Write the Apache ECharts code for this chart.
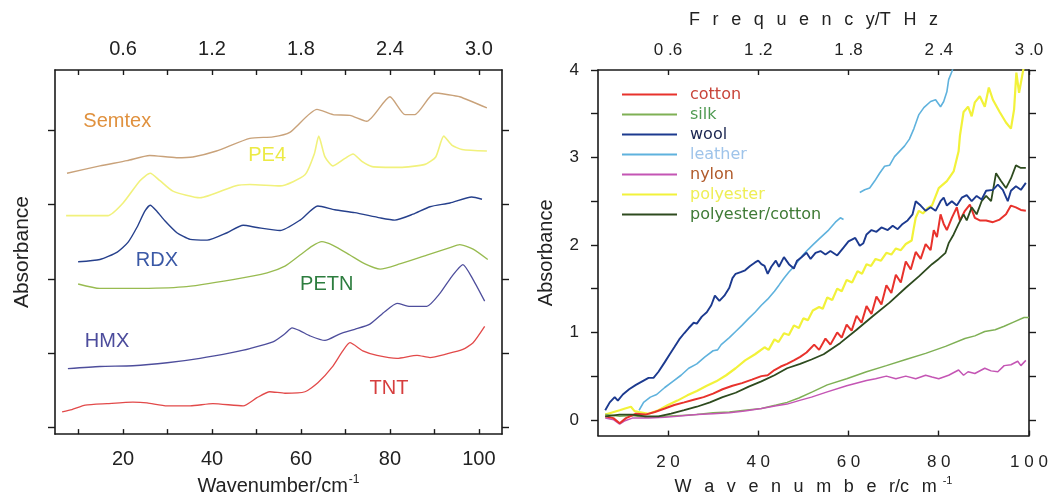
<!DOCTYPE html>
<html>
<head>
  <meta charset="utf-8">
  <title>THz spectra</title>
  <script src="https://cdn.jsdelivr.net/npm/echarts@6/dist/echarts.min.js"></script>
</head>
<body style="margin:0;background:#fff">
<div id="main" style="height: 501px;width: 1057px"></div>
<script type="text/javascript">
  // left panel: explosives, offset spectra [wavenumber, absorbance]
  var semtex = [[7.4,3.42],[14.8,3.52],[20.9,3.59],[26,3.66],[32,3.63],[35.7,3.64],[41,3.72],[48.5,3.89],[53.7,3.91],[57.5,3.97],[63.6,4.28],[67.2,4.21],[71,4.20],[74.8,4.12],[80,4.45],[83.4,4.21],[85.6,4.21],[90,4.50],[92.8,4.48],[95.7,4.45],[101.8,4.30]];
  var pe4 = [[7.2,2.85],[16.6,2.85],[20,3.02],[23.8,3.32],[26.1,3.42],[28.3,3.32],[31.2,3.18],[37.3,3.09],[45.2,3.25],[48.5,3.27],[55.3,3.25],[60.9,3.40],[63,3.68],[64,3.92],[65.4,3.64],[67.2,3.52],[69.9,3.62],[71.7,3.68],[73.7,3.58],[76,3.51],[82.2,3.50],[87.9,3.54],[90.3,3.64],[92.1,3.92],[93.9,3.80],[96.2,3.74],[101.8,3.72]];
  var rdx = [[9.9,2.23],[14.8,2.26],[18.7,2.36],[21.1,2.49],[23.1,2.69],[24.9,2.91],[26.1,2.99],[27.6,2.91],[29.4,2.78],[32.1,2.62],[35.1,2.53],[38.9,2.52],[43.4,2.62],[47,2.72],[50.1,2.69],[55.3,2.65],[59.8,2.79],[63.8,2.98],[67.6,2.93],[72.1,2.89],[77.8,2.82],[81.1,2.79],[85.2,2.87],[89,2.97],[93.5,3.02],[98.4,3.10],[100.7,3.07]];
  var petn = [[9.9,1.93],[14.8,1.87],[22.2,1.87],[33.5,1.89],[44.7,1.99],[52.4,2.08],[56.4,2.17],[59.8,2.32],[62.5,2.44],[64.7,2.50],[67.2,2.45],[71,2.32],[74.4,2.20],[77.8,2.13],[82.2,2.20],[88.3,2.32],[93.5,2.42],[95.7,2.46],[98.7,2.40],[102,2.26]];
  var hmx = [[7.6,0.79],[14.8,0.82],[22.2,0.83],[29.9,0.87],[37.3,0.93],[44.7,1.01],[48.5,1.06],[53.7,1.15],[56.4,1.26],[58,1.34],[59.8,1.30],[62.1,1.23],[65.4,1.17],[68.8,1.26],[72.1,1.32],[75.5,1.39],[78.9,1.56],[81.6,1.67],[84.5,1.63],[88.3,1.63],[91.2,1.80],[93.9,2.03],[96.4,2.19],[98.7,1.99],[101.3,1.70]];
  var tnt = [[6.3,0.21],[8.5,0.24],[11.5,0.30],[16.4,0.32],[22.2,0.34],[25.4,0.33],[29.9,0.29],[35.1,0.29],[40.2,0.32],[47,0.29],[50.1,0.40],[53,0.48],[56.4,0.46],[60.9,0.48],[63.8,0.60],[67,0.81],[69.4,1.03],[71,1.14],[73.9,1.03],[77.1,0.97],[81.6,0.93],[86.1,0.97],[89,0.94],[92.8,0.99],[96.4,1.05],[98.7,1.14],[101.3,1.36]];

  // right panel: fabrics [wavenumber, absorbance]
  var cotton = [[6.1,0.04],[7.9,0.02],[9.3,-0.04],[10.7,0.02],[12.9,0.07],[15,0.06],[17.1,0.09],[19.3,0.13],[21.4,0.17],[23.6,0.2],[25.7,0.23],[27.9,0.26],[30,0.3],[32.1,0.35],[34.3,0.39],[36.4,0.42],[38.6,0.46],[40.7,0.5],[42.1,0.51],[43.6,0.57],[45,0.61],[46.4,0.64],[47.9,0.68],[49.3,0.72],[50.7,0.77],[52.4,0.86],[53.5,0.80],[54.9,0.93],[56,0.86],[57.5,1.0],[58.5,0.94],[59.6,1.09],[60.7,1.02],[61.8,1.19],[62.9,1.11],[64,1.30],[65.1,1.21],[66.2,1.41],[67.3,1.32],[68.4,1.54],[69.5,1.45],[70.5,1.66],[71.6,1.57],[72.7,1.81],[73.8,1.72],[74.9,1.92],[76,1.84],[77.1,2.01],[78.2,1.94],[78.9,2.17],[79.6,2.09],[80.4,2.35],[81.1,2.24],[81.8,2.17],[82.9,2.31],[84,2.43],[84.7,2.28],[85.8,2.39],[86.9,2.46],[88,2.31],[89.1,2.28],[90.5,2.28],[92,2.26],[93.5,2.29],[94.9,2.35],[96,2.45],[97.1,2.43],[98.2,2.40],[99.3,2.39]];
  var silk = [[6.1,0.06],[9.3,0.04],[12,0.05],[15,0.03],[19.3,0.04],[23,0.05],[26.4,0.06],[30,0.08],[33.6,0.09],[37,0.11],[40.7,0.13],[44,0.17],[46.4,0.2],[49,0.25],[52,0.32],[55.3,0.40],[59.6,0.47],[64,0.55],[68.4,0.62],[72.7,0.69],[77.1,0.76],[81.5,0.84],[85.8,0.93],[88,0.96],[90.2,1.01],[92.5,1.03],[94.5,1.07],[96.7,1.12],[98.9,1.17],[100,1.17]];
  var wool = [[6.1,0.11],[7.1,0.20],[8.2,0.26],[8.9,0.22],[10,0.29],[11.4,0.35],[12.9,0.40],[14.3,0.44],[15.7,0.48],[16.8,0.48],[17.9,0.55],[19.3,0.66],[20.4,0.75],[21.4,0.83],[22.5,0.92],[23.6,0.99],[24.6,1.05],[25.7,1.11],[26.4,1.10],[27.5,1.18],[28.6,1.23],[29.6,1.31],[30.4,1.42],[30.7,1.43],[31.4,1.36],[32.5,1.42],[33.6,1.51],[34.3,1.62],[35,1.67],[36.1,1.69],[37.1,1.71],[38.2,1.76],[39.3,1.80],[40,1.82],[40.7,1.78],[41.4,1.76],[42.1,1.67],[42.9,1.75],[43.9,1.82],[44.6,1.75],[45.7,1.86],[46.8,1.78],[47.9,1.73],[48.6,1.82],[49.6,1.86],[50.7,1.91],[51.6,1.84],[52.7,1.91],[53.8,1.93],[54.9,1.89],[56,1.93],[57.5,1.88],[58.9,1.97],[60,2.04],[61.5,2.08],[62.5,1.99],[63.3,2.02],[64,2.12],[65.1,2.17],[66.2,2.15],[67.3,2.2],[68.7,2.17],[69.8,2.22],[70.9,2.18],[72,2.24],[73.1,2.28],[74.2,2.35],[74.9,2.5],[76,2.45],[77.1,2.39],[78.2,2.43],[79.3,2.39],[80.4,2.5],[81.1,2.54],[81.8,2.45],[82.9,2.5],[84,2.45],[85.1,2.54],[86.2,2.57],[87.3,2.5],[88.4,2.56],[89.5,2.52],[90.5,2.62],[92,2.63],[93.1,2.69],[94.2,2.63],[95.3,2.5],[96,2.62],[97.1,2.67],[98.2,2.63],[99.3,2.71]];
  var leather = [[13.6,0.11],[14.6,0.20],[16.1,0.26],[17.5,0.29],[19.3,0.37],[21.1,0.44],[22.9,0.51],[24.6,0.59],[26.4,0.64],[28.2,0.72],[30,0.79],[31,0.80],[31.8,0.86],[33.6,0.94],[35,1.01],[36.4,1.08],[37.9,1.16],[39.3,1.23],[40.7,1.31],[42.1,1.38],[43.6,1.47],[44.6,1.54],[45.7,1.62],[46.8,1.69],[47.9,1.75],[48.9,1.82],[50,1.89],[51.1,1.95],[52.1,2.0],[53.5,2.07],[55.6,2.17],[57.1,2.26],[58.2,2.31],[58.9,2.29],[60.5,null],[62.5,2.6],[63.6,2.63],[64.7,2.65],[65.8,2.73],[66.9,2.82],[68,2.9],[69.1,2.91],[70.2,3.01],[71.3,3.07],[72.4,3.13],[73.5,3.21],[74.5,3.33],[75.6,3.49],[76.7,3.57],[78.2,3.64],[79.3,3.66],[80.4,3.58],[81.1,3.64],[81.8,3.75],[82.2,3.89],[82.9,3.98],[83.3,4.05]];
  var nylon = [[6.1,0.02],[8,0.0],[9.3,-0.05],[10.5,-0.01],[12.1,0.02],[15.7,0.02],[19.3,0.03],[22,0.04],[26.4,0.06],[30,0.07],[33.6,0.08],[37,0.1],[40.7,0.13],[44,0.16],[46.4,0.18],[49,0.22],[51.8,0.26],[55.3,0.32],[59.6,0.39],[64,0.45],[66,0.47],[68.4,0.50],[70.5,0.47],[72.7,0.50],[74.9,0.47],[77.1,0.51],[78.5,0.49],[80,0.47],[82.2,0.51],[84.4,0.57],[85.5,0.51],[86.5,0.55],[88,0.53],[90.2,0.59],[91.6,0.56],[93.1,0.55],[94.5,0.62],[96,0.63],[97.5,0.67],[98.2,0.62],[99.3,0.68]];
  var polyester = [[6.1,0.06],[8,0.09],[9.3,0.11],[10.5,0.13],[11.8,0.15],[12.6,0.10],[13.6,0.09],[15.7,0.07],[17.9,0.11],[20,0.17],[22.1,0.22],[24.3,0.28],[26.4,0.33],[28.6,0.39],[30.7,0.44],[32.9,0.51],[35,0.59],[37.1,0.68],[39.3,0.75],[41.4,0.83],[42.3,0.80],[43.6,0.92],[44.5,0.89],[45.7,0.99],[46.8,0.97],[47.9,1.08],[49,1.05],[50,1.16],[51,1.14],[52.1,1.25],[53.5,1.29],[54.3,1.27],[55.3,1.40],[56.4,1.37],[57.5,1.50],[58.5,1.47],[59.6,1.60],[60.8,1.57],[62,1.70],[63,1.67],[64,1.78],[65,1.76],[66,1.84],[67.2,1.82],[68.4,1.91],[69.5,1.89],[70.5,1.96],[71.6,1.94],[72.7,2.01],[74,2.05],[74.5,2.2],[74.9,2.31],[75.6,2.39],[76.5,2.36],[77.5,2.42],[78.5,2.45],[80,2.65],[81.8,2.73],[83.3,2.84],[84.4,3.07],[84.7,3.25],[85.5,3.52],[86.5,3.58],[87.3,3.47],[88,3.63],[89.1,3.70],[90.2,3.58],[91.1,3.80],[92,3.66],[93.5,3.52],[94.9,3.40],[96,3.33],[96.7,3.55],[97.2,3.97],[97.8,3.74],[98.9,4.05],[99.5,4.1]];
  var polycotton = [[6.1,0.04],[9.3,0.06],[12.1,0.06],[15,0.04],[17.9,0.04],[20.7,0.07],[23.6,0.11],[26.4,0.15],[29.3,0.2],[32.1,0.26],[35,0.31],[37.9,0.38],[40.7,0.44],[43.6,0.51],[46.4,0.59],[49.3,0.64],[51.8,0.69],[54.5,0.75],[58.2,0.88],[61.8,1.03],[65.5,1.19],[69.1,1.34],[72.7,1.51],[75.6,1.64],[78.5,1.78],[80,1.84],[81.5,1.91],[82.2,2.02],[83.3,2.12],[84.4,2.24],[85.5,2.35],[86.2,2.28],[87.3,2.43],[88.4,2.35],[89.5,2.5],[90.5,2.56],[91.6,2.5],[92.7,2.82],[93.8,2.73],[94.9,2.65],[96,2.76],[97.1,2.91],[98.2,2.88],[99.3,2.88]];

  // tick labels (cm-1) and the matching THz on the top axes
  var wnTicks = [20, 40, 60, 80, 100];
  var wnMinor = [10, 20, 30, 40, 50, 60, 70, 80, 90, 100];
  var absTicks = [0, 1, 2, 3, 4];
  var absHalf = [0, 0.5, 1, 1.5, 2, 2.5, 3, 3.5, 4];

  var myChart = echarts.init(document.getElementById('main'));
  var FONT = 'Liberation Sans, Arial, sans-serif';
  var ink = '#1a1a1a';

  function thz(v) { return (v * 0.03).toFixed(1); }
  // loose letter spacing used on the right-hand panel
  function spaced(s, gap) {
    var out = '';
    for (var i = 0; i < s.length; i++) {
      out += s[i];
      if (i < s.length - 1 && s[i] !== '.' && s[i] !== '/' && s[i + 1] !== '/') out += gap;
    }
    return out;
  }

  function frameAxis(extra) {
    var base = {
      type: 'value',
      axisLine: { show: true, onZero: false, lineStyle: { color: ink, width: 1.6 } },
      axisTick: { show: true, lineStyle: { color: ink, width: 1.4 } },
      axisLabel: { show: false, color: '#222', fontFamily: FONT },
      splitLine: { show: false }
    };
    return echarts.util.merge(base, extra, true);
  }

  var line = function (name, data, color, w, x, y) {
    return {
      name: name, type: 'line', data: data, xAxisIndex: x, yAxisIndex: y,
      showSymbol: false, symbol: 'none', clip: true, smooth: x === 0 ? 0.2 : false,
      lineStyle: { color: color, width: w }, itemStyle: { color: color },
      emphasis: { disabled: true }, z: 3
    };
  };

  var option = {
    animation: false,
    backgroundColor: '#fff',
    grid: [
      { left: 55, top: 70, width: 447, height: 370 },
      { left: 598, top: 70, width: 431, height: 372 }
    ],
    legend: {
      orient: 'vertical', left: 617, top: 81, itemGap: 3,
      icon: 'rect', itemWidth: 55, itemHeight: 2,
      textStyle: { fontFamily: 'DejaVu Sans', fontSize: 16, lineHeight: 17, padding: [0, 0, 0, 8] },
      data: [
        { name: 'cotton', textStyle: { color: '#c8453a' } },
        { name: 'silk', textStyle: { color: '#4f9a52' } },
        { name: 'wool', textStyle: { color: '#1a2550' } },
        { name: 'leather', textStyle: { color: '#9fc4ea' } },
        { name: 'nylon', textStyle: { color: '#b05a2a' } },
        { name: 'polyester', textStyle: { color: '#eeee55' } },
        { name: 'polyester/cotton', textStyle: { color: '#3f7a35' } }
      ]
    },
    xAxis: [
      frameAxis({ gridIndex: 0, position: 'bottom', min: 4.7, max: 105.2,
        axisTick: { inside: true, length: 5, customValues: wnMinor },
        axisLabel: { show: true, customValues: wnTicks, fontSize: 20, margin: 15 },
        name: '{t|Wavenumber/cm}{s|-1}', nameLocation: 'middle', nameGap: 37,
        nameTextStyle: { color: '#222', fontFamily: FONT,
          rich: { t: { fontSize: 20, fontFamily: FONT, color: '#222' }, s: { fontSize: 12, fontFamily: FONT, color: '#222', padding: [0, 0, 12, 1] } } } }),
      frameAxis({ gridIndex: 0, position: 'top', min: 4.7, max: 105.2,
        axisTick: { inside: true, length: 5, customValues: wnMinor },
        axisLabel: { show: true, customValues: wnTicks, fontSize: 20, margin: 11, formatter: thz } }),
      frameAxis({ gridIndex: 1, position: 'bottom', min: 4.5, max: 100,
        axisTick: { inside: true, length: 5, customValues: wnTicks },
        axisLabel: { show: true, customValues: wnTicks, fontSize: 17, margin: 18,
          formatter: function (v) { return spaced(String(v), ' '); } },
        name: '{t|' + spaced('Wavenumber/cm', '\u2002\u2009') + '}{s|-1}', nameLocation: 'middle', nameGap: 37,
        nameTextStyle: { color: '#222', fontFamily: FONT,
          rich: { t: { fontSize: 18, fontFamily: FONT, color: '#222' }, s: { fontSize: 11, fontFamily: FONT, color: '#222', padding: [0, 0, 12, 6] } } } }),
      frameAxis({ gridIndex: 1, position: 'top', min: 4.5, max: 100,
        axisTick: { inside: true, length: 5, customValues: wnTicks },
        axisLabel: { show: true, customValues: wnTicks, fontSize: 17, margin: 11,
          formatter: function (v) { return spaced(thz(v), ' '); } },
        name: spaced('Frequency/THz', '\u2002\u2009'), nameLocation: 'middle', nameGap: 41,
        nameTextStyle: { color: '#222', fontFamily: FONT, fontSize: 18 } })
    ],
    yAxis: [
      frameAxis({ gridIndex: 0, position: 'left', min: -0.09, max: 4.81,
        axisTick: { inside: false, length: 7, customValues: absTicks },
        name: 'Absorbance', nameLocation: 'middle', nameGap: 22, nameRotate: 90,
        nameTextStyle: { color: '#222', fontFamily: FONT, fontSize: 21 } }),
      frameAxis({ gridIndex: 0, position: 'right', min: -0.09, max: 4.81,
        axisTick: { inside: false, length: 7, customValues: absTicks } }),
      frameAxis({ gridIndex: 1, position: 'left', min: -0.18, max: 4,
        axisTick: { inside: false, length: 7, customValues: absHalf },
        axisLabel: { show: true, customValues: absTicks, fontSize: 17, margin: 19 },
        name: 'Absorbance', nameLocation: 'middle', nameGap: 42, nameRotate: 90,
        nameTextStyle: { color: '#222', fontFamily: FONT, fontSize: 20 } }),
      frameAxis({ gridIndex: 1, position: 'right', min: -0.18, max: 4,
        axisTick: { inside: false, length: 7, customValues: absHalf } })
    ],
    series: [
      line('Semtex', semtex, '#c9a27a', 1.4, 0, 0),
      line('PE4', pe4, '#f1f17c', 1.6, 0, 0),
      line('RDX', rdx, '#26408c', 1.4, 0, 0),
      line('PETN', petn, '#98bb50', 1.3, 0, 0),
      line('HMX', hmx, '#4e4e9c', 1.3, 0, 0),
      line('TNT', tnt, '#e24a4a', 1.3, 0, 0),
      line('leather', leather, '#5fb2dd', 1.6, 2, 2),
      line('polyester', polyester, '#f2f23a', 2.2, 2, 2),
      line('silk', silk, '#7fb055', 1.5, 2, 2),
      line('nylon', nylon, '#c455b4', 1.5, 2, 2),
      line('cotton', cotton, '#e8322c', 2.0, 2, 2),
      line('polyester/cotton', polycotton, '#2e4b1f', 1.8, 2, 2),
      line('wool', wool, '#1c3a8f', 1.9, 2, 2)
    ]
  };
  myChart.setOption(option);

  // compound names inside the left panel, placed in data coordinates
  var names = [
    ['Semtex', 18.7, 4.12, '#e0913e'],
    ['PE4', 52.4, 3.66, '#ecea45'],
    ['RDX', 27.6, 2.24, '#3a58a6'],
    ['PETN', 65.8, 1.93, '#2d7d3f'],
    ['HMX', 16.4, 1.16, '#4c4c9c'],
    ['TNT', 79.8, 0.53, '#d63e3e']
  ];
  myChart.setOption({
    graphic: names.map(function (n) {
      var p = myChart.convertToPixel({ xAxisIndex: 0, yAxisIndex: 0 }, [n[1], n[2]]);
      return { type: 'text', x: p[0], y: p[1], z: 10,
        style: { text: n[0], fill: n[3], font: '20px ' + FONT, align: 'center', verticalAlign: 'middle' } };
    })
  });
</script>
</body>
</html>
